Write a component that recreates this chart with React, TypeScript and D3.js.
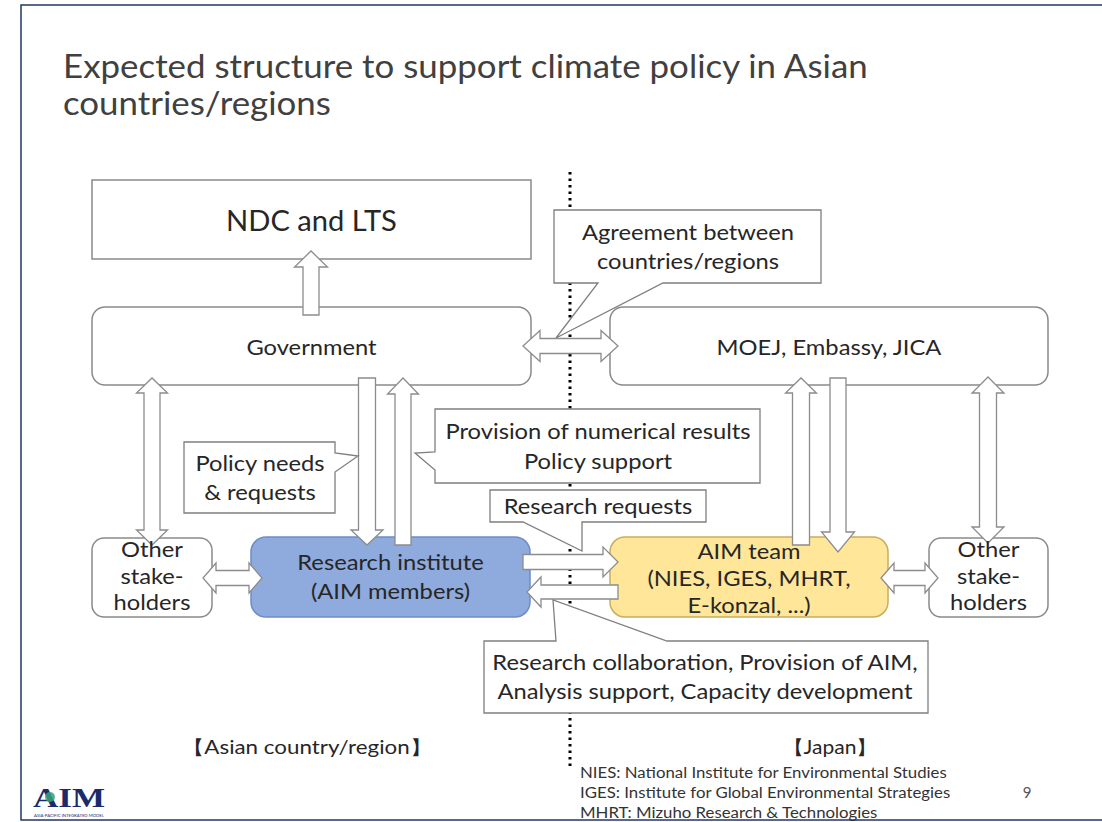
import * as d3 from "d3";

// ---- content ----
const TITLE_LINES = ["Expected structure to support climate policy in Asian", "countries/regions"];

const NODE_IDS = ["ndc", "gov", "moej", "otherL", "research", "aim", "otherR"];
const NODE_TEXT: Record<string, string[]> = {
  ndc: ["NDC and LTS"],
  gov: ["Government"],
  moej: ["MOEJ, Embassy, JICA"],
  otherL: ["Other", "stake-", "holders"],
  research: ["Research institute", "(AIM members)"],
  aim: ["AIM team", "(NIES, IGES, MHRT,", "E-konzal, ...)"],
  otherR: ["Other", "stake-", "holders"],
};

const CALLOUT_IDS = ["agreement", "policy", "provision", "requests", "collab"];
const CALLOUT_TEXT: Record<string, string[]> = {
  agreement: ["Agreement between", "countries/regions"],
  policy: ["Policy needs", "& requests"],
  provision: ["Provision of numerical results", "Policy support"],
  requests: ["Research requests"],
  collab: ["Research collaboration, Provision of AIM,", "Analysis support, Capacity development"],
};

const REGION_LABELS = ["【Asian country/region】", "【Japan】"];
const FOOTNOTES = [
  "NIES: National Institute for Environmental Studies",
  "IGES: Institute for Global Environmental Strategies",
  "MHRT: Mizuho Research & Technologies",
];
const PAGE_NUMBER = "9";

// ---- layout ----
const W = 1102;
const H = 822;
const FONT = "Lato, 'Open Sans', sans-serif";
const INK = "#262626";
const EDGE = "#8a8a8a";
const SX = 1.13; // horizontal stretch to mimic the wider slide font

type Box = { x0: number; x1: number; y0: number; y1: number; r: number; fs: number; cy: number; lh: number; fill: string; stroke: string };
const NODE_LAYOUT: Record<string, Box> = {
  ndc: { x0: 92, x1: 531, y0: 180, y1: 259, r: 0, fs: 28, cy: 220, lh: 0, fill: "#fff", stroke: EDGE },
  gov: { x0: 92, x1: 531, y0: 307, y1: 385, r: 13, fs: 21, cy: 347, lh: 0, fill: "#fff", stroke: EDGE },
  moej: { x0: 610, x1: 1048, y0: 307, y1: 385, r: 13, fs: 21, cy: 347, lh: 0, fill: "#fff", stroke: EDGE },
  otherL: { x0: 92, x1: 212, y0: 538, y1: 617, r: 12, fs: 21, cy: 576, lh: 26.5, fill: "#fff", stroke: EDGE },
  research: { x0: 251, x1: 530, y0: 537, y1: 617, r: 15, fs: 21, cy: 577, lh: 29, fill: "#8faadc", stroke: "#6e8cc6" },
  aim: { x0: 610, x1: 888, y0: 537, y1: 617, r: 15, fs: 21, cy: 578, lh: 27, fill: "#ffe699", stroke: "#c8ad5e" },
  otherR: { x0: 929, x1: 1048, y0: 538, y1: 617, r: 12, fs: 21, cy: 576, lh: 26.5, fill: "#fff", stroke: EDGE },
};

type Callout = { x0: number; x1: number; y0: number; y1: number; cx: number; cy: number; lh: number; side: string; a: number; b: number; tip: [number, number] };
const CALLOUT_LAYOUT: Record<string, Callout> = {
  agreement: { x0: 554, x1: 821, y0: 210, y1: 283, cx: 688, cy: 247, lh: 29, side: "bottom", a: 598, b: 663, tip: [556, 338] },
  policy: { x0: 184, x1: 335, y0: 442, y1: 513, cx: 260, cy: 478, lh: 29, side: "right", a: 453, b: 472, tip: [358, 456] },
  provision: { x0: 435, x1: 760, y0: 409, y1: 483, cx: 598, cy: 446, lh: 30, side: "left", a: 452, b: 470, tip: [415, 453] },
  requests: { x0: 490, x1: 706, y0: 490, y1: 522, cx: 598, cy: 506, lh: 0, side: "bottom", a: 523, b: 582, tip: [582, 551] },
  collab: { x0: 484, x1: 928, y0: 641, y1: 713, cx: 705, cy: 677, lh: 29, side: "top", a: 556, b: 667, tip: [553, 600] },
};

type Arrow = { from: [number, number]; to: [number, number]; both: boolean; sw: number; hw: number; hl: number };
const ARROWS: Arrow[] = [
  { from: [311, 315], to: [311, 251], both: false, sw: 16, hw: 33, hl: 16 },
  { from: [152, 378], to: [152, 545], both: true, sw: 16, hw: 31, hl: 15 },
  { from: [988, 377], to: [988, 543], both: true, sw: 17, hw: 32, hl: 16 },
  { from: [367, 378], to: [367, 545], both: false, sw: 17, hw: 32, hl: 15 },
  { from: [403, 545], to: [403, 378], both: false, sw: 16, hw: 31, hl: 16 },
  { from: [801, 545], to: [801, 378], both: false, sw: 17, hw: 31, hl: 15 },
  { from: [838, 378], to: [838, 552], both: false, sw: 16, hw: 33, hl: 20 },
  { from: [203, 578], to: [262, 578], both: true, sw: 15, hw: 30, hl: 13 },
  { from: [881, 578], to: [938, 578], both: true, sw: 15, hw: 30, hl: 13 },
  { from: [523, 562], to: [618, 562], both: false, sw: 15, hw: 30, hl: 15 },
  { from: [618, 592], to: [527, 592], both: false, sw: 14, hw: 30, hl: 14 },
  { from: [523, 346], to: [618, 346], both: true, sw: 15, hw: 31, hl: 17 },
];

const line = d3.line().curve(d3.curveLinearClosed);

function arrowPath(a: Arrow) {
  const [x0, y0] = a.from;
  const [x1, y1] = a.to;
  const L = Math.hypot(x1 - x0, y1 - y0);
  const ux = (x1 - x0) / L;
  const uy = (y1 - y0) / L;
  const nx = -uy;
  const ny = ux;
  const s2 = a.sw / 2;
  const h2 = a.hw / 2;
  const local: [number, number][] = a.both
    ? [[a.hl, -s2], [L - a.hl, -s2], [L - a.hl, -h2], [L, 0], [L - a.hl, h2], [L - a.hl, s2], [a.hl, s2], [a.hl, h2], [0, 0], [a.hl, -h2]]
    : [[0, -s2], [L - a.hl, -s2], [L - a.hl, -h2], [L, 0], [L - a.hl, h2], [L - a.hl, s2], [0, s2]];
  return line(local.map(([s, t]) => [x0 + s * ux + t * nx, y0 + s * uy + t * ny] as [number, number]));
}

function calloutPath(c: Callout) {
  const pts: [number, number][] = [[c.x0, c.y0]];
  if (c.side === "top") pts.push([c.a, c.y0], c.tip, [c.b, c.y0]);
  pts.push([c.x1, c.y0]);
  if (c.side === "right") pts.push([c.x1, c.a], c.tip, [c.x1, c.b]);
  pts.push([c.x1, c.y1]);
  if (c.side === "bottom") pts.push([c.b, c.y1], c.tip, [c.a, c.y1]);
  pts.push([c.x0, c.y1]);
  if (c.side === "left") pts.push([c.x0, c.b], c.tip, [c.x0, c.a]);
  return line(pts);
}

function Lines({ lines, cx, cy, lh, fs, sx }: { lines: string[]; cx: number; cy: number; lh: number; fs: number; sx: number }) {
  const top = cy - ((lines.length - 1) * lh) / 2;
  return (
    <>
      {lines.map((t, i) => (
        <text key={i} transform={`translate(${cx},${top + i * lh}) scale(${sx},1)`} textAnchor="middle" dominantBaseline="central" fontSize={fs} fill={INK}>
          {t}
        </text>
      ))}
    </>
  );
}

export default function App() {
  return (
    <svg width={W} height={H} style={{ position: "absolute", left: 0, top: 0, background: "#fff" }} fontFamily={FONT}>
      <rect x={0} y={0} width={W} height={H} fill="#fff" />
      {/* slide frame */}
      <rect x={21} y={5} width={1200} height={815} fill="none" stroke="#1f3864" strokeWidth={1.5} />

      {/* title */}
      {TITLE_LINES.map((t, i) => (
        <text key={t} transform={`translate(63,${78 + i * 37}) scale(1.09,1)`} fontSize={32} fill="#404040">
          {t}
        </text>
      ))}

      {/* divider */}
      <line x1={570} x2={570} y1={172} y2={770} stroke="#000" strokeWidth={3} strokeDasharray="2.5 4" />

      {/* boxes */}
      {NODE_IDS.map((id) => {
        const b = NODE_LAYOUT[id];
        return (
          <rect key={id} x={b.x0} y={b.y0} width={b.x1 - b.x0} height={b.y1 - b.y0} rx={b.r} fill={b.fill} stroke={b.stroke} strokeWidth={1.5} />
        );
      })}

      {/* arrows */}
      {ARROWS.map((a, i) => (
        <path key={i} d={arrowPath(a) ?? ""} fill="#fff" stroke="#8c8c8c" strokeWidth={1.3} strokeLinejoin="miter" />
      ))}

      {/* callouts */}
      {CALLOUT_IDS.map((id) => (
        <path key={id} d={calloutPath(CALLOUT_LAYOUT[id]) ?? ""} fill="#fff" stroke="#7f7f7f" strokeWidth={1.3} />
      ))}

      {/* box labels */}
      {NODE_IDS.map((id) => {
        const b = NODE_LAYOUT[id];
        return <Lines key={id} lines={NODE_TEXT[id]} cx={(b.x0 + b.x1) / 2} cy={b.cy} lh={b.lh} fs={b.fs} sx={id === "ndc" ? 1.04 : SX} />;
      })}
      {CALLOUT_IDS.map((id) => {
        const c = CALLOUT_LAYOUT[id];
        return <Lines key={id} lines={CALLOUT_TEXT[id]} cx={c.cx} cy={c.cy} lh={c.lh} fs={21} sx={SX} />;
      })}

      {/* region labels */}
      {REGION_LABELS.map((t, i) => (
        <text key={t} x={i === 0 ? 307 : 830} y={746} textAnchor="middle" dominantBaseline="central" fontSize={19} fill={INK}
          textLength={i === 0 ? 250 : 95} lengthAdjust="spacingAndGlyphs">
          {t}
        </text>
      ))}

      {/* footnotes */}
      {FOOTNOTES.map((t, i) => (
        <text key={t} transform={`translate(580,${778 + i * 20}) scale(1.12,1)`} fontSize={15} fill="#333">
          {t}
        </text>
      ))}
      <text x={1027} y={798} fontSize={15} fill="#555" textAnchor="middle">
        {PAGE_NUMBER}
      </text>

      {/* logo */}
      <g>
        <text x={33} y={807} fontFamily="'Liberation Serif', serif" fontWeight="bold" fontSize={28} fill="#1b2a6b" textLength={72} lengthAdjust="spacingAndGlyphs">
          AIM
        </text>
        <circle cx={50} cy={797} r={5} fill="#3aa27a" opacity={0.85} />
        <text x={34} y={816.5} fontSize={3.2} fill="#1b2a6b" textLength={70} lengthAdjust="spacingAndGlyphs">
          ASIA-PACIFIC INTEGRATED MODEL
        </text>
      </g>
    </svg>
  );
}
